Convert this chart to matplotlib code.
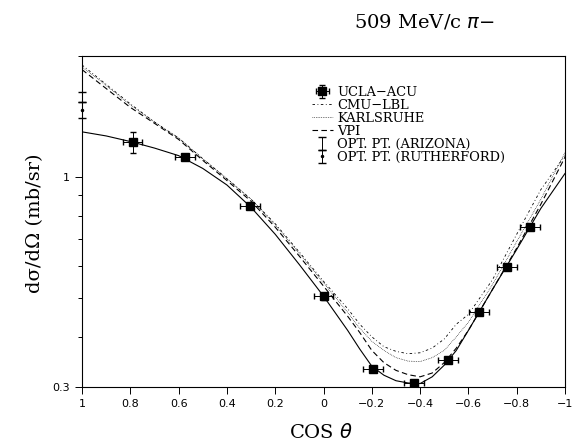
import numpy as np
import matplotlib.pyplot as plt
from matplotlib.lines import Line2D

# curves (cos theta, d sigma/d Omega in mb/sr)
cos_grid = [1.0, 0.9, 0.8, 0.7, 0.6, 0.5, 0.4, 0.3, 0.2, 0.1, 0.0, -0.1, -0.15,
            -0.2, -0.25, -0.3, -0.35, -0.4, -0.45, -0.5, -0.55, -0.6, -0.7, -0.8,
            -0.9, -1.0]
ucla_fit = [1.295, 1.265, 1.225, 1.18, 1.13, 1.05, 0.955, 0.84, 0.72, 0.605, 0.505,
            0.415, 0.373, 0.338, 0.321, 0.311, 0.307, 0.306, 0.318, 0.34, 0.37,
            0.415, 0.525, 0.66, 0.835, 1.02]
cmu_lbl = [1.90, 1.70, 1.52, 1.37, 1.25, 1.11, 0.99, 0.88, 0.765, 0.65, 0.55,
           0.47, 0.43, 0.40, 0.378, 0.368, 0.363, 0.365, 0.375, 0.395, 0.43,
           0.455, 0.555, 0.72, 0.93, 1.13]
karlsruhe = [1.88, 1.69, 1.51, 1.37, 1.25, 1.11, 0.99, 0.88, 0.76, 0.645, 0.545,
             0.46, 0.42, 0.39, 0.37, 0.355, 0.348, 0.347, 0.355, 0.37, 0.40,
             0.435, 0.54, 0.69, 0.88, 1.15]
vpi = [1.85, 1.66, 1.49, 1.36, 1.24, 1.10, 0.98, 0.87, 0.75, 0.635, 0.535,
       0.45, 0.41, 0.37, 0.345, 0.33, 0.322, 0.318, 0.325, 0.345, 0.375,
       0.415, 0.525, 0.665, 0.855, 1.12]

data_cos = [0.79, 0.573, 0.304, 0.0, -0.205, -0.375, -0.516, -0.644, -0.76, -0.855]
data_val = [1.22, 1.122, 0.846, 0.504, 0.333, 0.307, 0.35, 0.46, 0.596, 0.75]
data_yerr = [0.075, 0.02, 0.015, 0.01, 0.006, 0.006, 0.006, 0.008, 0.01, 0.012]
data_xerr = [0.04, 0.04, 0.04, 0.04, 0.04, 0.04, 0.04, 0.04, 0.04, 0.04]

opt_az_val, opt_az_err = 1.585, 0.045
opt_ru_val, opt_ru_err = 1.47, 0.07

xticks = [1, 0.8, 0.6, 0.4, 0.2, 0, -0.2, -0.4, -0.6, -0.8, -1]
xticklabels = ['1', '0.8', '0.6', '0.4', '0.2', '0', '\u22120.2', '\u22120.4',
               '\u22120.6', '\u22120.8', '\u22121']

serif = 'DejaVu Serif'
ls_cmu = (0, (3, 3, 1, 3))
ls_kar = (0, (1, 1.5))
ls_vpi = (0, (5, 3))

fig = plt.figure(figsize=(5.78, 4.46), dpi=100)
ax = fig.add_axes([0.1419, 0.1323, 0.8356, 0.7421])

ax.plot(cos_grid, ucla_fit, color='black', lw=0.8)
ax.plot(cos_grid, cmu_lbl, color='black', lw=0.6, linestyle=ls_cmu)
ax.plot(cos_grid, karlsruhe, color='black', lw=0.5, linestyle=ls_kar)
ax.plot(cos_grid, vpi, color='black', lw=0.8, linestyle=ls_vpi)

eb = ax.errorbar(data_cos, data_val, yerr=data_yerr, xerr=data_xerr, fmt='s',
                 color='black', ms=5.5, elinewidth=0.7, capsize=2)
az = ax.errorbar([1.0], [opt_az_val], yerr=[opt_az_err], fmt='none',
                 ecolor='black', elinewidth=0.7, capsize=3)
ru = ax.errorbar([1.0], [opt_ru_val], yerr=[opt_ru_err], fmt='.',
                 color='black', ms=3, elinewidth=0.7, capsize=3)
for c in (az, ru):
    for art in c.get_children():
        art.set_clip_on(False)

ax.set_yscale('log')
ax.set_xlim(1, -1)
ax.set_ylim(0.3, 2.0)
ax.set_yticks([0.3, 1])
ax.set_yticklabels(['0.3', '1'])
ax.set_yticks([0.4, 0.5, 0.6, 0.7, 0.8, 0.9, 2], minor=True)
ax.yaxis.set_minor_formatter(plt.NullFormatter())
ax.set_xticks(xticks)
ax.set_xticklabels(xticklabels)
ax.tick_params(axis='both', which='both', direction='out', labelsize=8, width=0.7)
ax.tick_params(axis='both', which='major', length=5)
ax.tick_params(axis='y', which='minor', length=3)
for s in ax.spines.values():
    s.set_linewidth(0.8)

handles = [eb,
           Line2D([], [], color='black', lw=0.6, linestyle=ls_cmu),
           Line2D([], [], color='black', lw=0.5, linestyle=ls_kar),
           Line2D([], [], color='black', lw=0.8, linestyle=ls_vpi),
           az, ru]
labels = ['UCLA\u2212ACU', 'CMU\u2212LBL', 'KARLSRUHE', 'VPI',
          'OPT. PT. (ARIZONA)', 'OPT. PT. (RUTHERFORD)']
fig.legend(handles, labels, loc='upper left', bbox_to_anchor=(0.528, 0.822),
           frameon=False, handlelength=1.6, handletextpad=0.35, labelspacing=0.0,
           borderpad=0, prop={'family': serif, 'size': 9.4})

fig.text(0.735, 0.95, '509 MeV/c $\\pi$\u2212', ha='center', va='center',
         family=serif, fontsize=14)
fig.text(0.06, 0.50, 'd\u03c3/d\u03a9 (mb/sr)', rotation=90, ha='center', va='center',
         family=serif, fontsize=14)
fig.text(0.555, 0.03, 'COS $\\theta$', ha='center', va='center',
         family=serif, fontsize=14)

fig.savefig('out.png', dpi=100)
